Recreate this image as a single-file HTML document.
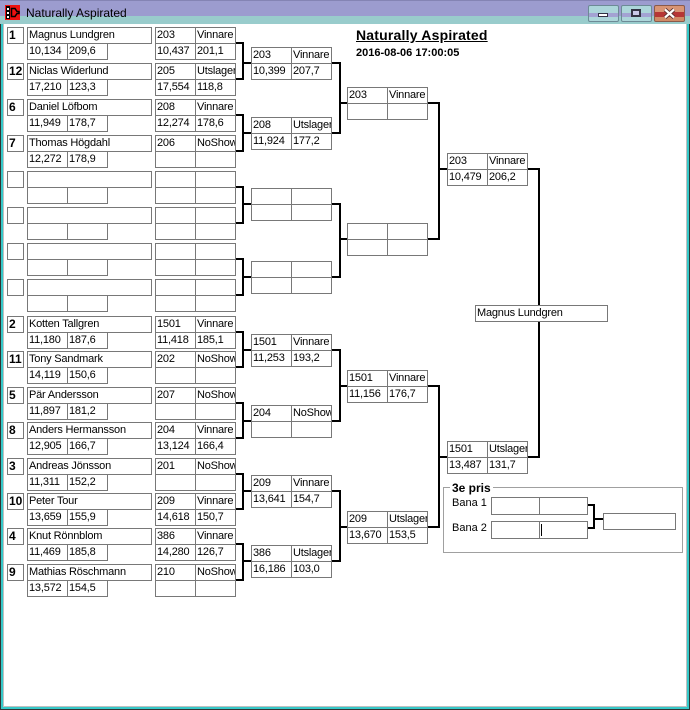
<!DOCTYPE html>
<html><head><meta charset="utf-8">
<style>
html,body{margin:0;padding:0;}
body{width:690px;height:710px;overflow:hidden;background:#fff;position:relative;font-family:"Liberation Sans",sans-serif;}
.b{position:absolute;box-sizing:border-box;border:1px solid #787878;height:17px;background:#fff;font:11px/15px "Liberation Sans",sans-serif;letter-spacing:-0.2px;padding-left:1px;white-space:nowrap;overflow:hidden;color:#000;}
.w{width:41px;}
.sd{width:17px;font-weight:bold;font-size:12px;letter-spacing:0;}
.nm{width:125px;}
.bn{width:49px;height:18px;}
.l{position:absolute;background:#000;}
.fr{position:absolute;}
.btn{position:absolute;top:5px;width:31px;height:17px;box-sizing:border-box;border:1px solid #6d8a96;border-radius:2px;background:linear-gradient(#acd6da 0,#acd6da 7px,#a3a3d3 7px,#a3a3d3 11px,#acd6da 11px);}
.bc{background:linear-gradient(#d89474 0,#d89474 6px,#b63636 6px,#b63636 11px,#d08a66 11px);border-color:#8a5a4a;}
</style></head><body>

<!-- title bar -->
<div class="fr" style="left:0;top:0;width:690px;height:16px;background:#9c9ccf;"></div>
<div class="fr" style="left:0;top:0;width:690px;height:1px;background:#8484b4;"></div>
<div class="fr" style="left:0;top:16px;width:690px;height:8px;background:#99cccc;"></div>
<svg style="position:absolute;left:5px;top:5px" width="15" height="15">
<rect width="15" height="15" fill="#ee1111"/>
<rect x="1" y="1" width="4" height="13" fill="#000"/>
<rect x="2" y="3" width="2" height="2" fill="#fff"/>
<rect x="2" y="7" width="2" height="2" fill="#fff"/>
<rect x="2" y="11" width="2" height="2" fill="#fff"/>
<path d="M6.5 3.5h3.5l2 3h2v2h-2l-2 3H6.5z" fill="none" stroke="#000" stroke-width="1.5"/>
</svg>
<div style="position:absolute;left:26px;top:5px;font:12px/16px 'Liberation Sans',sans-serif;color:#000;white-space:nowrap;">Naturally Aspirated</div>
<div class="btn" style="left:588px;"><div style="position:absolute;left:9px;top:7px;width:10px;height:4px;box-sizing:border-box;border:1px solid #334;background:#fff;"></div></div>
<div class="btn" style="left:621px;"><div style="position:absolute;left:9px;top:3px;width:10px;height:8px;box-sizing:border-box;border:2px solid #334;background:#c8c8e8;"></div></div>
<div class="btn bc" style="left:654px;"><svg style="position:absolute;left:8px;top:2px" width="13" height="11"><path d="M2 1.5L11 9.5M11 1.5L2 9.5" stroke="#5a3030" stroke-width="4"/><path d="M2 1.5L11 9.5M11 1.5L2 9.5" stroke="#fff" stroke-width="2.2"/></svg></div>

<!-- window frame -->
<div class="fr" style="left:0;top:24px;width:1px;height:686px;background:#333;"></div>
<div class="fr" style="left:1px;top:24px;width:2px;height:686px;background:#36c8c8;"></div>
<div class="fr" style="left:3px;top:24px;width:1px;height:683px;background:#c0c0c0;"></div>
<div class="fr" style="left:686px;top:24px;width:1px;height:683px;background:#c0c0c0;"></div>
<div class="fr" style="left:687px;top:24px;width:2px;height:686px;background:#36c8c8;"></div>
<div class="fr" style="left:689px;top:24px;width:1px;height:686px;background:#333;"></div>
<div class="fr" style="left:3px;top:706px;width:684px;height:1px;background:#c0c0c0;"></div>
<div class="fr" style="left:1px;top:707px;width:688px;height:2px;background:#36c8c8;"></div>
<div class="fr" style="left:0;top:709px;width:690px;height:1px;background:#333;"></div>

<!-- header -->
<div style="position:absolute;left:356px;top:27px;font:bold 14px/16px 'Liberation Sans',sans-serif;letter-spacing:0.2px;text-decoration:underline;white-space:nowrap;">Naturally Aspirated</div>
<div style="position:absolute;left:356px;top:45px;font:bold 11px/16px 'Liberation Sans',sans-serif;white-space:nowrap;">2016-08-06 17:00:05</div>

<!-- ===== Round 1 entrants (upper half) ===== -->
<div class="b sd" style="left:7px;top:27px">1</div>
<div class="b nm" style="left:27px;top:27px">Magnus Lundgren</div>
<div class="b w" style="left:27px;top:43px">10,134</div>
<div class="b w" style="left:67px;top:43px">209,6</div>
<div class="b w" style="left:155px;top:27px">203</div>
<div class="b w" style="left:195px;top:27px">Vinnare</div>
<div class="b w" style="left:155px;top:43px">10,437</div>
<div class="b w" style="left:195px;top:43px">201,1</div>

<div class="b sd" style="left:7px;top:63px">12</div>
<div class="b nm" style="left:27px;top:63px">Niclas Widerlund</div>
<div class="b w" style="left:27px;top:79px">17,210</div>
<div class="b w" style="left:67px;top:79px">123,3</div>
<div class="b w" style="left:155px;top:63px">205</div>
<div class="b w" style="left:195px;top:63px">Utslager</div>
<div class="b w" style="left:155px;top:79px">17,554</div>
<div class="b w" style="left:195px;top:79px">118,8</div>

<div class="b sd" style="left:7px;top:99px">6</div>
<div class="b nm" style="left:27px;top:99px">Daniel Löfbom</div>
<div class="b w" style="left:27px;top:115px">11,949</div>
<div class="b w" style="left:67px;top:115px">178,7</div>
<div class="b w" style="left:155px;top:99px">208</div>
<div class="b w" style="left:195px;top:99px">Vinnare</div>
<div class="b w" style="left:155px;top:115px">12,274</div>
<div class="b w" style="left:195px;top:115px">178,6</div>

<div class="b sd" style="left:7px;top:135px">7</div>
<div class="b nm" style="left:27px;top:135px">Thomas Högdahl</div>
<div class="b w" style="left:27px;top:151px">12,272</div>
<div class="b w" style="left:67px;top:151px">178,9</div>
<div class="b w" style="left:155px;top:135px">206</div>
<div class="b w" style="left:195px;top:135px">NoShow</div>
<div class="b w" style="left:155px;top:151px"></div>
<div class="b w" style="left:195px;top:151px"></div>

<div class="b sd" style="left:7px;top:171px"></div>
<div class="b nm" style="left:27px;top:171px"></div>
<div class="b w" style="left:27px;top:187px"></div>
<div class="b w" style="left:67px;top:187px"></div>
<div class="b w" style="left:155px;top:171px"></div>
<div class="b w" style="left:195px;top:171px"></div>
<div class="b w" style="left:155px;top:187px"></div>
<div class="b w" style="left:195px;top:187px"></div>

<div class="b sd" style="left:7px;top:207px"></div>
<div class="b nm" style="left:27px;top:207px"></div>
<div class="b w" style="left:27px;top:223px"></div>
<div class="b w" style="left:67px;top:223px"></div>
<div class="b w" style="left:155px;top:207px"></div>
<div class="b w" style="left:195px;top:207px"></div>
<div class="b w" style="left:155px;top:223px"></div>
<div class="b w" style="left:195px;top:223px"></div>

<div class="b sd" style="left:7px;top:243px"></div>
<div class="b nm" style="left:27px;top:243px"></div>
<div class="b w" style="left:27px;top:259px"></div>
<div class="b w" style="left:67px;top:259px"></div>
<div class="b w" style="left:155px;top:243px"></div>
<div class="b w" style="left:195px;top:243px"></div>
<div class="b w" style="left:155px;top:259px"></div>
<div class="b w" style="left:195px;top:259px"></div>

<div class="b sd" style="left:7px;top:279px"></div>
<div class="b nm" style="left:27px;top:279px"></div>
<div class="b w" style="left:27px;top:295px"></div>
<div class="b w" style="left:67px;top:295px"></div>
<div class="b w" style="left:155px;top:279px"></div>
<div class="b w" style="left:195px;top:279px"></div>
<div class="b w" style="left:155px;top:295px"></div>
<div class="b w" style="left:195px;top:295px"></div>

<!-- ===== Round 1 entrants (lower half) ===== -->
<div class="b sd" style="left:7px;top:316px">2</div>
<div class="b nm" style="left:27px;top:316px">Kotten Tallgren</div>
<div class="b w" style="left:27px;top:332px">11,180</div>
<div class="b w" style="left:67px;top:332px">187,6</div>
<div class="b w" style="left:155px;top:316px">1501</div>
<div class="b w" style="left:195px;top:316px">Vinnare</div>
<div class="b w" style="left:155px;top:332px">11,418</div>
<div class="b w" style="left:195px;top:332px">185,1</div>

<div class="b sd" style="left:7px;top:351px">11</div>
<div class="b nm" style="left:27px;top:351px">Tony Sandmark</div>
<div class="b w" style="left:27px;top:367px">14,119</div>
<div class="b w" style="left:67px;top:367px">150,6</div>
<div class="b w" style="left:155px;top:351px">202</div>
<div class="b w" style="left:195px;top:351px">NoShow</div>
<div class="b w" style="left:155px;top:367px"></div>
<div class="b w" style="left:195px;top:367px"></div>

<div class="b sd" style="left:7px;top:387px">5</div>
<div class="b nm" style="left:27px;top:387px">Pär Andersson</div>
<div class="b w" style="left:27px;top:403px">11,897</div>
<div class="b w" style="left:67px;top:403px">181,2</div>
<div class="b w" style="left:155px;top:387px">207</div>
<div class="b w" style="left:195px;top:387px">NoShow</div>
<div class="b w" style="left:155px;top:403px"></div>
<div class="b w" style="left:195px;top:403px"></div>

<div class="b sd" style="left:7px;top:422px">8</div>
<div class="b nm" style="left:27px;top:422px">Anders Hermansson</div>
<div class="b w" style="left:27px;top:438px">12,905</div>
<div class="b w" style="left:67px;top:438px">166,7</div>
<div class="b w" style="left:155px;top:422px">204</div>
<div class="b w" style="left:195px;top:422px">Vinnare</div>
<div class="b w" style="left:155px;top:438px">13,124</div>
<div class="b w" style="left:195px;top:438px">166,4</div>

<div class="b sd" style="left:7px;top:458px">3</div>
<div class="b nm" style="left:27px;top:458px">Andreas Jönsson</div>
<div class="b w" style="left:27px;top:474px">11,311</div>
<div class="b w" style="left:67px;top:474px">152,2</div>
<div class="b w" style="left:155px;top:458px">201</div>
<div class="b w" style="left:195px;top:458px">NoShow</div>
<div class="b w" style="left:155px;top:474px"></div>
<div class="b w" style="left:195px;top:474px"></div>

<div class="b sd" style="left:7px;top:493px">10</div>
<div class="b nm" style="left:27px;top:493px">Peter Tour</div>
<div class="b w" style="left:27px;top:509px">13,659</div>
<div class="b w" style="left:67px;top:509px">155,9</div>
<div class="b w" style="left:155px;top:493px">209</div>
<div class="b w" style="left:195px;top:493px">Vinnare</div>
<div class="b w" style="left:155px;top:509px">14,618</div>
<div class="b w" style="left:195px;top:509px">150,7</div>

<div class="b sd" style="left:7px;top:528px">4</div>
<div class="b nm" style="left:27px;top:528px">Knut Rönnblom</div>
<div class="b w" style="left:27px;top:544px">11,469</div>
<div class="b w" style="left:67px;top:544px">185,8</div>
<div class="b w" style="left:155px;top:528px">386</div>
<div class="b w" style="left:195px;top:528px">Vinnare</div>
<div class="b w" style="left:155px;top:544px">14,280</div>
<div class="b w" style="left:195px;top:544px">126,7</div>

<div class="b sd" style="left:7px;top:564px">9</div>
<div class="b nm" style="left:27px;top:564px">Mathias Röschmann</div>
<div class="b w" style="left:27px;top:580px">13,572</div>
<div class="b w" style="left:67px;top:580px">154,5</div>
<div class="b w" style="left:155px;top:564px">210</div>
<div class="b w" style="left:195px;top:564px">NoShow</div>
<div class="b w" style="left:155px;top:580px"></div>
<div class="b w" style="left:195px;top:580px"></div>

<!-- ===== Round 2 boxes ===== -->
<div class="b w" style="left:251px;top:47px">203</div>
<div class="b w" style="left:291px;top:47px">Vinnare</div>
<div class="b w" style="left:251px;top:63px">10,399</div>
<div class="b w" style="left:291px;top:63px">207,7</div>

<div class="b w" style="left:251px;top:117px">208</div>
<div class="b w" style="left:291px;top:117px">Utslager</div>
<div class="b w" style="left:251px;top:133px">11,924</div>
<div class="b w" style="left:291px;top:133px">177,2</div>

<div class="b w" style="left:251px;top:188px"></div>
<div class="b w" style="left:291px;top:188px"></div>
<div class="b w" style="left:251px;top:204px"></div>
<div class="b w" style="left:291px;top:204px"></div>

<div class="b w" style="left:251px;top:261px"></div>
<div class="b w" style="left:291px;top:261px"></div>
<div class="b w" style="left:251px;top:277px"></div>
<div class="b w" style="left:291px;top:277px"></div>

<div class="b w" style="left:251px;top:334px">1501</div>
<div class="b w" style="left:291px;top:334px">Vinnare</div>
<div class="b w" style="left:251px;top:350px">11,253</div>
<div class="b w" style="left:291px;top:350px">193,2</div>

<div class="b w" style="left:251px;top:405px">204</div>
<div class="b w" style="left:291px;top:405px">NoShow</div>
<div class="b w" style="left:251px;top:421px"></div>
<div class="b w" style="left:291px;top:421px"></div>

<div class="b w" style="left:251px;top:475px">209</div>
<div class="b w" style="left:291px;top:475px">Vinnare</div>
<div class="b w" style="left:251px;top:491px">13,641</div>
<div class="b w" style="left:291px;top:491px">154,7</div>

<div class="b w" style="left:251px;top:545px">386</div>
<div class="b w" style="left:291px;top:545px">Utslager</div>
<div class="b w" style="left:251px;top:561px">16,186</div>
<div class="b w" style="left:291px;top:561px">103,0</div>

<!-- ===== Round 3 boxes ===== -->
<div class="b w" style="left:347px;top:87px">203</div>
<div class="b w" style="left:387px;top:87px">Vinnare</div>
<div class="b w" style="left:347px;top:103px"></div>
<div class="b w" style="left:387px;top:103px"></div>

<div class="b w" style="left:347px;top:223px"></div>
<div class="b w" style="left:387px;top:223px"></div>
<div class="b w" style="left:347px;top:239px"></div>
<div class="b w" style="left:387px;top:239px"></div>

<div class="b w" style="left:347px;top:370px">1501</div>
<div class="b w" style="left:387px;top:370px">Vinnare</div>
<div class="b w" style="left:347px;top:386px">11,156</div>
<div class="b w" style="left:387px;top:386px">176,7</div>

<div class="b w" style="left:347px;top:511px">209</div>
<div class="b w" style="left:387px;top:511px">Utslager</div>
<div class="b w" style="left:347px;top:527px">13,670</div>
<div class="b w" style="left:387px;top:527px">153,5</div>

<!-- ===== Round 4 boxes ===== -->
<div class="b w" style="left:447px;top:153px">203</div>
<div class="b w" style="left:487px;top:153px">Vinnare</div>
<div class="b w" style="left:447px;top:169px">10,479</div>
<div class="b w" style="left:487px;top:169px">206,2</div>

<div class="b w" style="left:447px;top:441px">1501</div>
<div class="b w" style="left:487px;top:441px">Utslager</div>
<div class="b w" style="left:447px;top:457px">13,487</div>
<div class="b w" style="left:487px;top:457px">131,7</div>

<!-- ===== Connectors R1 -> R2 ===== -->
<div class="l" style="left:236px;top:42px;width:8px;height:2px"></div>
<div class="l" style="left:242px;top:42px;width:2px;height:38px"></div>
<div class="l" style="left:236px;top:78px;width:8px;height:2px"></div>
<div class="l" style="left:244px;top:62px;width:7px;height:2px"></div>

<div class="l" style="left:236px;top:114px;width:8px;height:2px"></div>
<div class="l" style="left:242px;top:114px;width:2px;height:38px"></div>
<div class="l" style="left:236px;top:150px;width:8px;height:2px"></div>
<div class="l" style="left:244px;top:132px;width:7px;height:2px"></div>

<div class="l" style="left:236px;top:186px;width:8px;height:2px"></div>
<div class="l" style="left:242px;top:186px;width:2px;height:38px"></div>
<div class="l" style="left:236px;top:222px;width:8px;height:2px"></div>
<div class="l" style="left:244px;top:203px;width:7px;height:2px"></div>

<div class="l" style="left:236px;top:258px;width:8px;height:2px"></div>
<div class="l" style="left:242px;top:258px;width:2px;height:38px"></div>
<div class="l" style="left:236px;top:294px;width:8px;height:2px"></div>
<div class="l" style="left:244px;top:276px;width:7px;height:2px"></div>

<div class="l" style="left:236px;top:331px;width:8px;height:2px"></div>
<div class="l" style="left:242px;top:331px;width:2px;height:37px"></div>
<div class="l" style="left:236px;top:366px;width:8px;height:2px"></div>
<div class="l" style="left:244px;top:349px;width:7px;height:2px"></div>

<div class="l" style="left:236px;top:402px;width:8px;height:2px"></div>
<div class="l" style="left:242px;top:402px;width:2px;height:37px"></div>
<div class="l" style="left:236px;top:437px;width:8px;height:2px"></div>
<div class="l" style="left:244px;top:420px;width:7px;height:2px"></div>

<div class="l" style="left:236px;top:473px;width:8px;height:2px"></div>
<div class="l" style="left:242px;top:473px;width:2px;height:37px"></div>
<div class="l" style="left:236px;top:508px;width:8px;height:2px"></div>
<div class="l" style="left:244px;top:490px;width:7px;height:2px"></div>

<div class="l" style="left:236px;top:543px;width:8px;height:2px"></div>
<div class="l" style="left:242px;top:543px;width:2px;height:38px"></div>
<div class="l" style="left:236px;top:579px;width:8px;height:2px"></div>
<div class="l" style="left:244px;top:560px;width:7px;height:2px"></div>

<!-- ===== Connectors R2 -> R3 ===== -->
<div class="l" style="left:332px;top:62px;width:9px;height:2px"></div>
<div class="l" style="left:339px;top:62px;width:2px;height:72px"></div>
<div class="l" style="left:332px;top:132px;width:9px;height:2px"></div>
<div class="l" style="left:341px;top:102px;width:6px;height:2px"></div>

<div class="l" style="left:332px;top:203px;width:9px;height:2px"></div>
<div class="l" style="left:339px;top:203px;width:2px;height:75px"></div>
<div class="l" style="left:332px;top:276px;width:9px;height:2px"></div>
<div class="l" style="left:341px;top:238px;width:6px;height:2px"></div>

<div class="l" style="left:332px;top:349px;width:9px;height:2px"></div>
<div class="l" style="left:339px;top:349px;width:2px;height:73px"></div>
<div class="l" style="left:332px;top:420px;width:9px;height:2px"></div>
<div class="l" style="left:341px;top:385px;width:6px;height:2px"></div>

<div class="l" style="left:332px;top:490px;width:9px;height:2px"></div>
<div class="l" style="left:339px;top:490px;width:2px;height:72px"></div>
<div class="l" style="left:332px;top:560px;width:9px;height:2px"></div>
<div class="l" style="left:341px;top:526px;width:6px;height:2px"></div>

<!-- ===== Connectors R3 -> R4 ===== -->
<div class="l" style="left:428px;top:102px;width:12px;height:2px"></div>
<div class="l" style="left:438px;top:102px;width:2px;height:138px"></div>
<div class="l" style="left:428px;top:238px;width:12px;height:2px"></div>
<div class="l" style="left:440px;top:168px;width:7px;height:2px"></div>

<div class="l" style="left:428px;top:385px;width:12px;height:2px"></div>
<div class="l" style="left:438px;top:385px;width:2px;height:143px"></div>
<div class="l" style="left:428px;top:526px;width:12px;height:2px"></div>
<div class="l" style="left:440px;top:456px;width:7px;height:2px"></div>

<!-- ===== Final connector ===== -->
<div class="l" style="left:528px;top:168px;width:12px;height:2px"></div>
<div class="l" style="left:538px;top:168px;width:2px;height:290px"></div>
<div class="l" style="left:528px;top:456px;width:12px;height:2px"></div>
<div class="b" style="left:475px;top:305px;width:133px">Magnus Lundgren</div>

<!-- ===== 3e pris ===== -->
<div class="fr" style="left:443px;top:487px;width:240px;height:66px;box-sizing:border-box;border:1px solid #a0a0a0;"></div>
<div style="position:absolute;left:450px;top:480px;height:16px;padding:0 2px;background:#fff;font:bold 12px/16px 'Liberation Sans',sans-serif;white-space:nowrap;">3e pris</div>
<div style="position:absolute;left:452px;top:495px;font:11px/16px 'Liberation Sans',sans-serif;white-space:nowrap;">Bana 1</div>
<div style="position:absolute;left:452px;top:520px;font:11px/16px 'Liberation Sans',sans-serif;white-space:nowrap;">Bana 2</div>
<div class="b bn" style="left:491px;top:497px"></div>
<div class="b bn" style="left:539px;top:497px"></div>
<div class="b bn" style="left:491px;top:521px"></div>
<div class="b bn" style="left:539px;top:521px"></div>
<div class="l" style="left:541px;top:524px;width:1px;height:12px"></div>
<div class="l" style="left:588px;top:504px;width:7px;height:2px"></div>
<div class="l" style="left:593px;top:504px;width:2px;height:25px"></div>
<div class="l" style="left:588px;top:527px;width:7px;height:2px"></div>
<div class="l" style="left:595px;top:518px;width:8px;height:2px"></div>
<div class="b" style="left:603px;top:513px;width:73px"></div>

</body></html>
